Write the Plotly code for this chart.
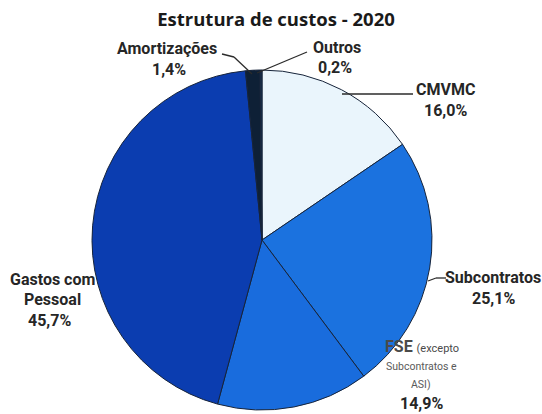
import plotly.graph_objects as go

# Cost structure 2020 (share of total costs, %)
categories = ["CMVMC", "Subcontratos", "FSE (excepto Subcontratos e ASI)",
              "Gastos com Pessoal", "Amortizações", "Outros"]
shares = [16.0, 25.1, 14.9, 45.7, 1.4, 0.2]
colors = ["#EAF5FC", "#1B72DF", "#196CDD", "#0B3DB0", "#0E2036", "#16304F"]


def pct(v):
    return f"{v:.1f}".replace(".", ",") + "%"


fig = go.Figure(go.Pie(
    labels=categories,
    values=shares,
    sort=False,
    direction="clockwise",
    rotation=0,
    textinfo="none",
    marker=dict(colors=colors, line=dict(color="#17243A", width=1)),
    domain=dict(x=[92 / 542, 432 / 542], y=[1 - 410 / 414, 1 - 70 / 414]),
    showlegend=False,
))

LBL = dict(family="Roboto, Liberation Sans, sans-serif", size=16, color="#262626")


def px(x):
    return x / 542


def py(y):
    return 1 - y / 414


annotations = []


def add(text, x, y, size=16, color="#262626"):
    annotations.append(dict(
        text=text, x=px(x), y=py(y), xref="paper", yref="paper",
        showarrow=False, xanchor="center", yanchor="middle",
        font=dict(LBL, size=size, color=color),
    ))


# Category labels with their stated shares
add("<b>Amortizações</b>", 167, 49)
add("<b>" + pct(shares[4]) + "</b>", 169, 70)
add("<b>Outros</b>", 337, 47)
add("<b>" + pct(shares[5]) + "</b>", 335, 67)
add("<b>CMVMC</b>", 445, 89)
add("<b>" + pct(shares[0]) + "</b>", 445, 110)
add("<b>Subcontratos</b>", 493, 277)
add("<b>" + pct(shares[1]) + "</b>", 493, 298)
add("<b>FSE</b> <span style='font-size:11px'>(excepto</span>", 422, 346, color="#4a4a4a")
add("Subcontratos e", 421, 366, size=10.5, color="#5a5a5a")
add("ASI)", 421, 384, size=10.5, color="#5a5a5a")
add("<b>" + pct(shares[2]) + "</b>", 421, 403)
add("<b>Gastos com</b>", 52, 279)
add("<b>Pessoal</b>", 52, 299)
add("<b>" + pct(shares[3]) + "</b>", 49, 320)

# Leader lines from slices to their labels
leaders = [
    [(222, 54), (234, 57), (252, 74)],
    [(257, 73), (307, 52)],
    [(342, 94), (413, 94)],
    [(428, 281), (436, 278), (446, 278)],
]
shapes = []
for pts in leaders:
    for (x0, y0), (x1, y1) in zip(pts[:-1], pts[1:]):
        shapes.append(dict(type="line", xref="paper", yref="paper",
                           x0=px(x0), y0=py(y0), x1=px(x1), y1=py(y1),
                           line=dict(color="#2b2b2b", width=1.3)))

fig.update_layout(
    width=542, height=414,
    margin=dict(l=0, r=0, t=0, b=0),
    paper_bgcolor="white", plot_bgcolor="white",
    title=dict(text="<b>Estrutura de custos - 2020</b>", x=276 / 542, xanchor="center",
               y=1 - 20 / 414, yanchor="middle",
               font=dict(family="Open Sans, Noto Sans, sans-serif", size=18.5, color="#1a1a1a")),
    annotations=annotations,
    shapes=shapes,
)

fig.write_html("out.html")
